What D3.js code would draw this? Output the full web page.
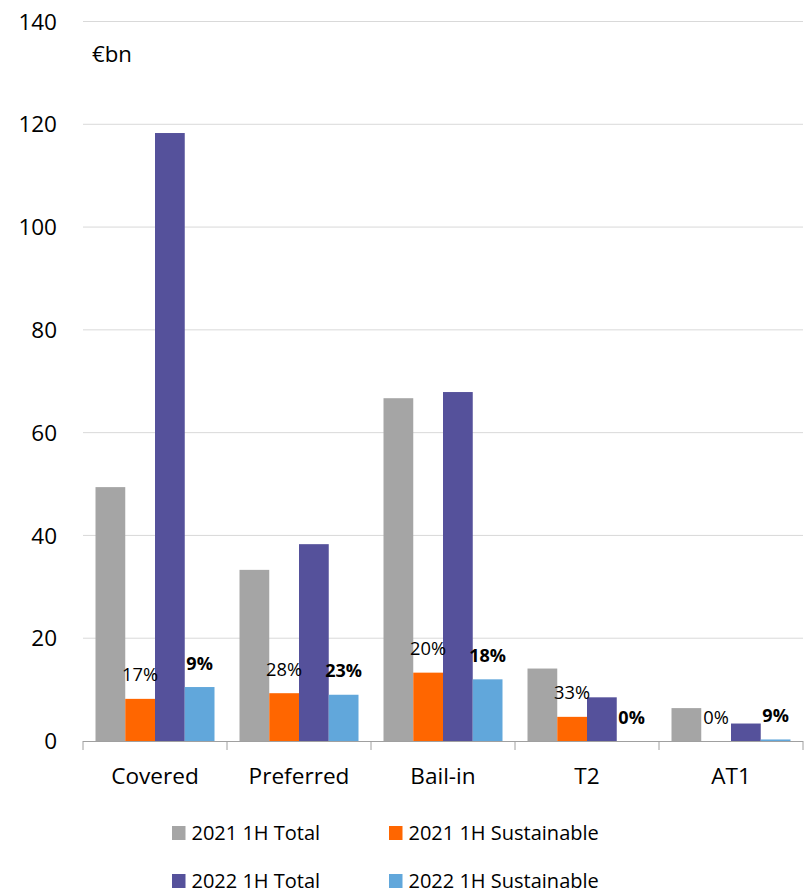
<!DOCTYPE html>
<html>
<head>
<meta charset="utf-8">
<script src="https://cdn.jsdelivr.net/npm/d3@7"></script>
<style>
  html, body { margin: 0; padding: 0; background: #fff; }
  svg { display: block; font-family: "Open Sans", sans-serif; }
</style>
</head>
<body>
<svg id="chart" width="806" height="891"></svg>
<script>
// Issuance by instrument type, €bn
const categories = ["Covered", "Preferred", "Bail-in", "T2", "AT1"];
const seriesNames = ["2021 1H Total", "2021 1H Sustainable", "2022 1H Total", "2022 1H Sustainable"];
const total2021 = [49.4, 33.3, 66.7, 14.1, 6.4];
const sust2021 = [8.2, 9.3, 13.3, 4.7, 0];
const total2022 = [118.3, 38.3, 67.9, 8.5, 3.4];
const sust2022 = [10.5, 9.0, 12.0, 0, 0.3];
const shareLabels2021 = ["17%", "28%", "20%", "33%", "0%"];
const shareLabels2022 = ["9%", "23%", "18%", "0%", "9%"];
const yTicks = [0, 20, 40, 60, 80, 100, 120, 140];
const colors = ["#a5a5a5", "#ff6600", "#55519b", "#61a7db"];

const seriesValues = [total2021, sust2021, total2022, sust2022];

const svg = d3.select("#chart");
const plotLeft = 83, plotRight = 803, plotTop = 21.5, plotBottom = 741;

const x0 = d3.scaleBand().domain(categories).range([plotLeft, plotRight]).padding(0);
const x1 = d3.scaleBand().domain(d3.range(4))
  .range([12.5, x0.bandwidth() - 12.5]).padding(0);
const y = d3.scaleLinear().domain([0, 140]).range([plotBottom, plotTop]);

// horizontal gridlines
svg.append("g").selectAll("line").data(yTicks.filter(t => t > 0)).join("line")
  .attr("x1", plotLeft).attr("x2", plotRight)
  .attr("y1", d => y(d)).attr("y2", d => y(d))
  .attr("stroke", "#d9d9d9").attr("stroke-width", 1);

// y tick labels
svg.append("g").selectAll("text").data(yTicks).join("text")
  .attr("x", 57).attr("y", d => y(d)).attr("dy", "0.36em")
  .attr("text-anchor", "end").attr("font-size", 22.5).attr("fill", "#000")
  .text(d => d);

svg.append("text").attr("x", 92).attr("y", 62)
  .attr("font-size", 22.2).attr("fill", "#000").text("€bn");

// bars
const groups = svg.append("g").selectAll("g").data(categories).join("g")
  .attr("transform", c => `translate(${x0(c)},0)`);

groups.selectAll("rect")
  .data((c, i) => seriesValues.map((vals, s) => ({ s, v: vals[i] })))
  .join("rect")
  .attr("x", d => x1(d.s))
  .attr("width", x1.bandwidth())
  .attr("y", d => y(d.v))
  .attr("height", d => y(0) - y(d.v))
  .attr("fill", d => colors[d.s]);

// share labels above the sustainable bars
groups.append("text")
  .attr("x", x1(1) + x1.bandwidth() / 2)
  .attr("y", (c, i) => y(sust2021[i]) - 17.5)
  .attr("text-anchor", "middle").attr("font-size", 18.3).attr("fill", "#000")
  .text((c, i) => shareLabels2021[i]);

groups.append("text")
  .attr("x", x1(3) + x1.bandwidth() / 2)
  .attr("y", (c, i) => y(sust2022[i]) - 17.5)
  .attr("text-anchor", "middle").attr("font-size", 18).attr("font-weight", "bold")
  .attr("fill", "#000")
  .text((c, i) => shareLabels2022[i]);

// x axis
const xAxis = d3.axisBottom(x0).tickSize(0).tickPadding(0).tickFormat("");
const axisG = svg.append("g").attr("transform", `translate(0,${plotBottom})`).call(xAxis);
axisG.select(".domain").attr("stroke", "#a0a0a0").attr("d", `M${plotLeft},0.5H${plotRight}`);
axisG.selectAll(".tick").remove();
axisG.selectAll("line.sep").data(d3.range(categories.length + 1)).join("line")
  .attr("class", "sep")
  .attr("x1", i => plotLeft + i * x0.bandwidth()).attr("x2", i => plotLeft + i * x0.bandwidth())
  .attr("y1", 0).attr("y2", 9)
  .attr("stroke", "#a0a0a0").attr("stroke-width", 1);

svg.append("g").selectAll("text").data(categories).join("text")
  .attr("x", c => x0(c) + x0.bandwidth() / 2)
  .attr("y", 784)
  .attr("text-anchor", "middle").attr("font-size", 22.6).attr("fill", "#000")
  .text(c => c);

// legend
const legendPos = [
  { x: 172, y: 833 }, { x: 389, y: 833 },
  { x: 172, y: 881 }, { x: 389, y: 881 }
];
const legend = svg.append("g").selectAll("g").data(seriesNames).join("g")
  .attr("transform", (d, i) => `translate(${legendPos[i].x},${legendPos[i].y})`);
legend.append("rect").attr("x", 0).attr("y", -7).attr("width", 13.5).attr("height", 14)
  .attr("fill", (d, i) => colors[i]);
legend.append("text").attr("x", 19.5).attr("y", 6.5)
  .attr("font-size", 20).attr("fill", "#000").text(d => d);
</script>
</body>
</html>
